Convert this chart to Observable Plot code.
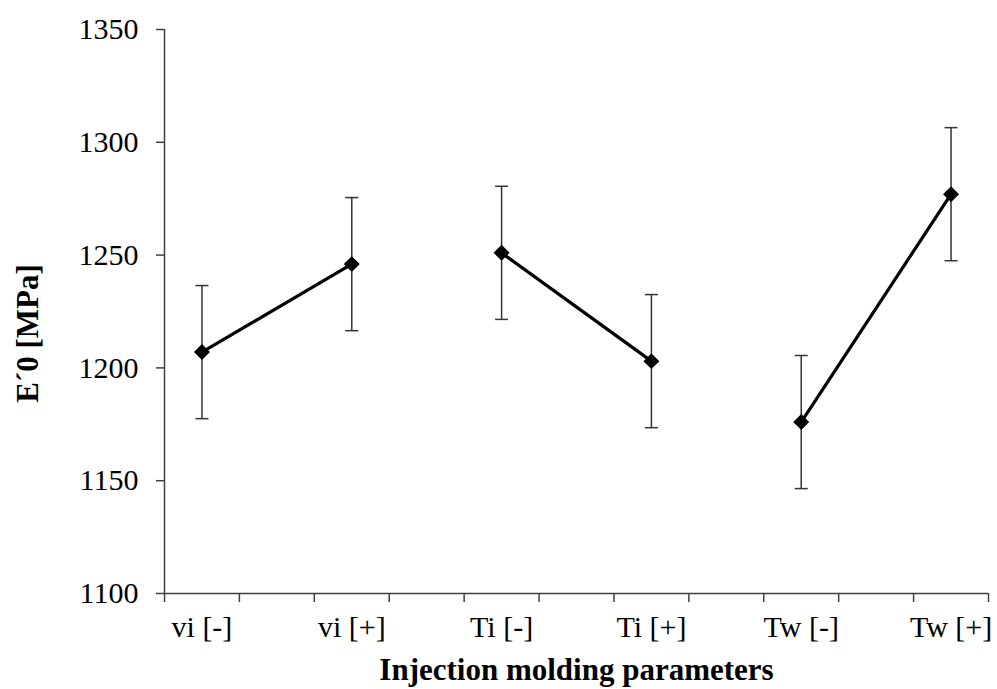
<!DOCTYPE html>
<html>
<head>
<meta charset="utf-8">
<script src="https://cdn.jsdelivr.net/npm/d3@7"></script>
<script src="https://cdn.jsdelivr.net/npm/@observablehq/plot@0.6"></script>
<style>
  html, body { margin: 0; padding: 0; background: #fff; }
  #chart svg { display: block; }
</style>
</head>
<body>
<div id="chart"></div>
<script>
const categories = ["vi [-]", "vi [+]", "Ti [-]", "Ti [+]", "Tw [-]", "Tw [+]"];
const groups = ["vi", "vi", "Ti", "Ti", "Tw", "Tw"];
const values = [1207, 1246, 1251, 1203, 1176, 1277];
const errors = [29.5, 29.5, 29.5, 29.5, 29.5, 29.5];
const yTicks = [1100, 1150, 1200, 1250, 1300, 1350];
const xTitle = "Injection molding parameters";
const yTitle = "E\u00B40 [MPa]";

// 11 category slots (Excel-style, blank slots between the shown labels)
const nSlots = 11;
const slotTicks = d3.range(0, nSlots + 1);
const data = categories.map((c, i) => ({
  cat: c, group: groups[i], x: 2 * i + 0.5, v: values[i], lo: values[i] - errors[i], hi: values[i] + errors[i]
}));

const capSymbol = {
  draw(ctx, size) {
    const r = Math.sqrt(size / Math.PI);
    ctx.moveTo(-r, 0);
    ctx.lineTo(r, 0);
  }
};

const font = "'Liberation Serif', 'Times New Roman', serif";
const axisColor = "#404040";

const plot = Plot.plot({
  width: 997,
  height: 689,
  marginLeft: 164,
  marginRight: 9,
  marginTop: 29,
  marginBottom: 96,
  style: { fontFamily: font, fontSize: "30px", color: "#000", background: "#fff" },
  x: { domain: [0, nSlots], axis: null },
  y: { domain: [1100, 1350], axis: null },
  marks: [
    Plot.ruleY([1100], { stroke: axisColor, strokeWidth: 1.5 }),
    Plot.ruleX([0], { stroke: axisColor, strokeWidth: 1.5 }),
    Plot.axisY({ ticks: yTicks, tickSize: 8, tickPadding: 18, tickFormat: "d", stroke: axisColor, strokeWidth: 1.5, fill: "#000", label: null, fontSize: 30 }),
    Plot.axisX({ ticks: slotTicks, tickSize: 9, tickFormat: () => "", stroke: axisColor, strokeWidth: 1.5, label: null }),
    Plot.axisX({ ticks: data.map(d => d.x), tickSize: 0, tickPadding: 22, tickFormat: (x) => categories[(x - 0.5) / 2], fill: "#000", label: null, fontSize: 30 }),
    Plot.ruleX(data, { x: "x", y1: "lo", y2: "hi", stroke: "#333", strokeWidth: 1.5 }),
    Plot.dot(data, { x: "x", y: "lo", symbol: capSymbol, r: 6.5, stroke: "#333", strokeWidth: 1.5, fill: "none" }),
    Plot.dot(data, { x: "x", y: "hi", symbol: capSymbol, r: 6.5, stroke: "#333", strokeWidth: 1.5, fill: "none" }),
    Plot.line(data, { x: "x", y: "v", z: "group", stroke: "#000", strokeWidth: 3.2 }),
    Plot.dot(data, { x: "x", y: "v", symbol: "diamond2", r: 7.2, fill: "#000", stroke: "none" }),
    Plot.text([xTitle], { frameAnchor: "bottom", dy: 86, text: d => d, fontWeight: "bold", fontSize: 31, fill: "#000" }),
    Plot.text([yTitle], { frameAnchor: "left", textAnchor: "middle", dx: -136, dy: 22, rotate: -90, text: d => d, fontWeight: "bold", fontSize: 31, fill: "#000" })
  ]
});
document.getElementById("chart").appendChild(plot);
</script>
</body>
</html>
